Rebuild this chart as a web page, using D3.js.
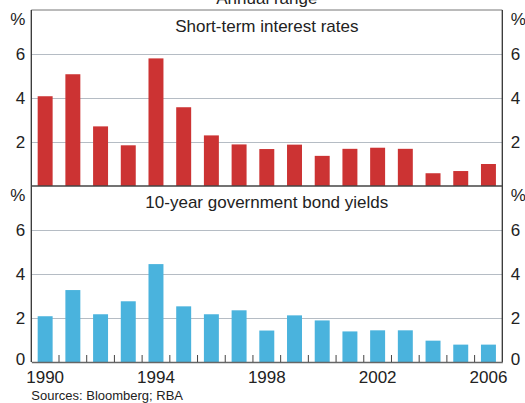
<!DOCTYPE html>
<html>
<head>
<meta charset="utf-8">
<script src="https://cdn.jsdelivr.net/npm/d3@7"></script>
<style>
  body { margin: 0; background: #fff; }
  svg { display: block; font-family: "Liberation Sans", Arial, sans-serif; }
</style>
</head>
<body>
<div id="chart"></div>
<script>
// data (annual range, percentage points)
var years = d3.range(1990, 2007);
var shortRates = [4.08, 5.08, 2.71, 1.85, 5.8, 3.58, 2.3, 1.89, 1.68, 1.88, 1.37, 1.69, 1.74, 1.69, 0.58, 0.68, 1.0];
var bondYields = [2.08, 3.27, 2.17, 2.76, 4.45, 2.53, 2.17, 2.35, 1.43, 2.12, 1.89, 1.39, 1.44, 1.44, 0.97, 0.79, 0.79];
var topTicks = [2, 4, 6];
var bottomTicks = [0, 2, 4, 6];
var yearLabels = [1990, 1994, 1998, 2002, 2006];

var width = 525, height = 403;
var left = 31.3, right = 502.3;
var fs = 17;

var svg = d3.select("#chart").append("svg")
    .attr("width", width)
    .attr("height", height);

var x = d3.scaleBand()
    .domain(years)
    .range([left, right])
    .paddingInner(0.46)
    .paddingOuter(0.23);

// two panels stacked, same 0-8 scale
var panels = [
  { title: "Short-term interest rates", values: shortRates, ticks: topTicks, color: "#cc3333", top: 10, bottom: 186 },
  { title: "10-year government bond yields", values: bondYields, ticks: bottomTicks, color: "#4ab3dd", top: 186, bottom: 362 }
];

panels.forEach(function(p) {
  var y = d3.scaleLinear().domain([0, 8]).range([p.bottom, p.top]);

  // gridlines
  var gl = svg.append("g")
      .attr("transform", "translate(" + left + ",0)")
      .call(d3.axisLeft(y).tickValues(p.ticks.filter(function(t) { return t > 0; })).tickSize(-(right - left)));
  gl.select(".domain").remove();
  gl.selectAll(".tick text").remove();
  gl.selectAll(".tick line").attr("stroke", "#b5bcc4").attr("stroke-width", 1.2);

  // left/right labels (incl. zero on bottom panel)
  [[left - 6, "end"], [right + 8.5, "start"]].forEach(function(s) {
    svg.append("g").selectAll("text")
      .data(p.ticks)
      .enter().append("text")
        .attr("x", s[0])
        .attr("y", function(d) { return d === 0 ? y(d) - 3 : y(d); })
        .attr("dy", "0.35em")
        .attr("text-anchor", s[1])
        .attr("font-size", fs)
        .attr("fill", "#222")
        .text(function(d) { return d; });
    svg.append("text")
      .attr("x", s[0])
      .attr("y", p.top + 9.5)
      .attr("dy", "0.35em")
      .attr("text-anchor", s[1])
      .attr("font-size", fs)
      .attr("fill", "#222")
      .text("%");
  });

  // bars
  svg.append("g").selectAll("rect")
    .data(p.values)
    .enter().append("rect")
      .attr("x", function(d, i) { return x(years[i]); })
      .attr("width", x.bandwidth())
      .attr("y", function(d) { return y(d); })
      .attr("height", function(d) { return y(0) - y(d); })
      .attr("fill", p.color);

  // panel title
  svg.append("text")
    .attr("x", (left + right) / 2)
    .attr("y", p.top + 21.8)
    .attr("text-anchor", "middle")
    .attr("font-size", fs)
    .attr("fill", "#222")
    .text(p.title);
});

// frame
svg.append("line").attr("x1", left).attr("x2", right).attr("y1", 10).attr("y2", 10)
    .attr("stroke", "#777").attr("stroke-width", 1);
svg.append("line").attr("x1", left).attr("x2", left).attr("y1", 10).attr("y2", 362)
    .attr("stroke", "#333").attr("stroke-width", 1.3);
svg.append("line").attr("x1", right).attr("x2", right).attr("y1", 10).attr("y2", 362)
    .attr("stroke", "#333").attr("stroke-width", 1.3);
svg.append("line").attr("x1", left).attr("x2", right).attr("y1", 186).attr("y2", 186)
    .attr("stroke", "#444").attr("stroke-width", 1.5);

// bottom axis: year labels and small ticks between bars
var xa = svg.append("g")
    .attr("transform", "translate(0,362)")
    .call(d3.axisBottom(x).tickValues(yearLabels).tickSize(0).tickPadding(9));
xa.select(".domain").attr("stroke", "#666").attr("stroke-width", 1.5);
xa.selectAll(".tick text").attr("font-size", fs).attr("fill", "#222").attr("font-family", null);

svg.append("g").selectAll("line")
  .data(years.slice(1))
  .enter().append("line")
    .attr("x1", function(d) { return x(d) - x.step() * x.paddingInner() / 2; })
    .attr("x2", function(d) { return x(d) - x.step() * x.paddingInner() / 2; })
    .attr("y1", 362)
    .attr("y2", 355)
    .attr("stroke", "#444")
    .attr("stroke-width", 1);

// heading (cut off at top in the original) and source note
svg.append("text")
  .attr("x", (left + right) / 2)
  .attr("y", 3.5)
  .attr("text-anchor", "middle")
  .attr("font-size", fs)
  .attr("fill", "#222")
  .text("Annual range");

svg.append("text")
  .attr("x", left)
  .attr("y", 400)
  .attr("font-size", 13)
  .attr("fill", "#222")
  .text("Sources: Bloomberg; RBA");
</script>
</body>
</html>
